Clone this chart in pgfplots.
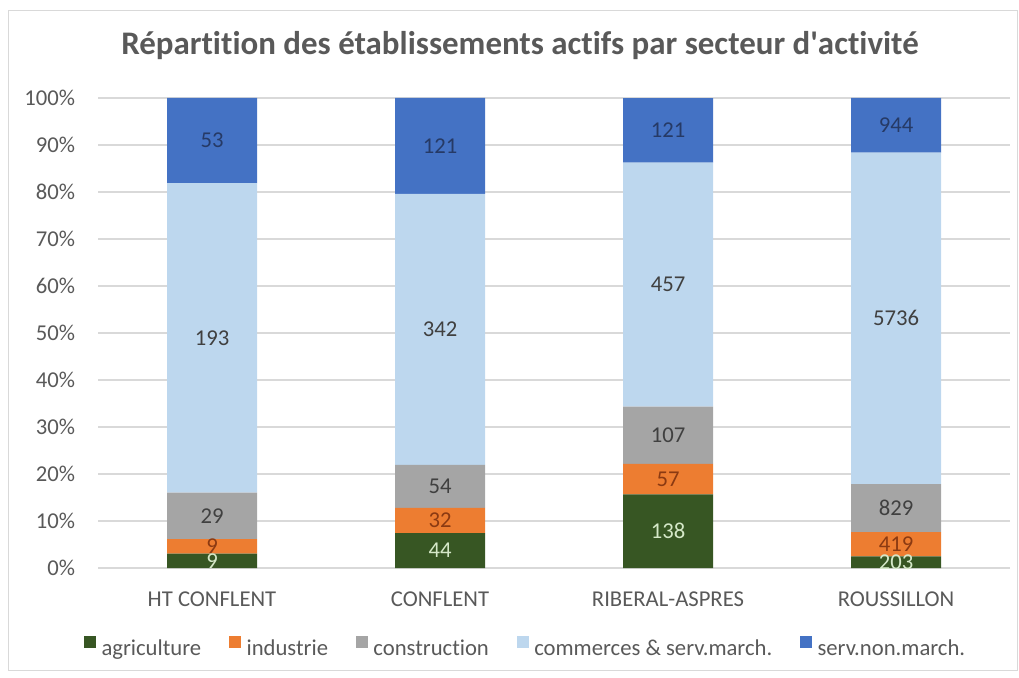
\documentclass[border=0pt]{standalone}
\usepackage{fontspec}
\setmainfont{Carlito}[Ligatures=NoCommon]
\usepackage{pgfplots}
\usepackage{pgfplotstable}
\pgfplotsset{compat=1.18}
\definecolor{cagri}{HTML}{375623}
\definecolor{cind}{HTML}{ED7D31}
\definecolor{ccons}{HTML}{A5A5A5}
\definecolor{ccom}{HTML}{BDD7EE}
\definecolor{cserv}{HTML}{4472C4}
\definecolor{txt}{HTML}{595959}
\definecolor{gridc}{HTML}{D9D9D9}
\definecolor{lbl}{HTML}{404040}
\definecolor{lblgreen}{HTML}{D5E8C8}
\definecolor{lblorange}{HTML}{8B3A12}
\definecolor{lblblue}{HTML}{263A66}

\pgfplotstableread{
x a b c d e
0 9 9 29 193 53
1 44 32 54 342 121
2 138 57 107 457 121
3 203 419 829 5736 944
}\data
\pgfplotstablecreatecol[expr={\thisrow{a}+\thisrow{b}+\thisrow{c}+\thisrow{d}+\thisrow{e}}]{tot}{\data}

\pgfplotsset{
  lblplot/.style={draw=none, mark=none, forget plot, nodes near coords,
    point meta=explicit symbolic,
    every node near coord/.append style={anchor=center, inner sep=0pt,
      font=\fontsize{17}{20}\selectfont, text=#1}},
  geom/.style={at={(73.5pt,81.75pt)}, anchor=south west, scale only axis,
    width=684pt, height=352.5pt, xmin=-0.5, xmax=3.5, ymin=0, ymax=100,
    enlargelimits=false}
}

\begin{document}
\begin{tikzpicture}
\path[use as bounding box] (0,0) rectangle (764.25pt,507.75pt);
\draw[gridc, line width=0.6pt] (6pt,5.25pt) rectangle (762.75pt,500.25pt);
\node[text=txt, font=\fontsize{24.7}{29}\selectfont\bfseries] at (390pt,473.5pt)
  {Répartition des établissements actifs par secteur d\textquotesingle activité};

\begin{axis}[geom,
  ybar stacked, bar width=67.5pt,
  axis line style={draw=none},
  major tick length=0pt,
  xtick={0,1,2,3},
  xticklabels={HT CONFLENT, CONFLENT, RIBERAL-ASPRES, ROUSSILLON},
  ytick={0,10,...,100},
  yticklabel={\pgfmathprintnumber[assume math mode=true]{\tick}\%},
  ymajorgrids, grid style={gridc, line width=0.8pt},
  tick label style={text=txt, font=\fontsize{17}{20}\selectfont, inner sep=0pt},
  xticklabel style={anchor=center, yshift=-23.25pt},
  yticklabel style={anchor=east, xshift=-17pt},
  legend columns=5,
  legend style={draw=none, fill=none, at={(0.4693,-0.1702)}, anchor=center,
    font=\fontsize{17}{20}\selectfont, text=txt,
    /tikz/every even column/.append style={column sep=19pt}},
  legend image code/.code={\fill[#1] (0pt,0pt) rectangle (9pt,9pt);\path (11pt,0pt);},
]
\addplot[fill=cagri, draw=none] table[x=x, y expr={\thisrow{a}/\thisrow{tot}*100}]{\data};
\addplot[fill=cind, draw=none] table[x=x, y expr={\thisrow{b}/\thisrow{tot}*100}]{\data};
\addplot[fill=ccons, draw=none] table[x=x, y expr={\thisrow{c}/\thisrow{tot}*100}]{\data};
\addplot[fill=ccom, draw=none] table[x=x, y expr={\thisrow{d}/\thisrow{tot}*100}]{\data};
\addplot[fill=cserv, draw=none] table[x=x, y expr={\thisrow{e}/\thisrow{tot}*100}]{\data};
\legend{agriculture, industrie, construction, commerces \& serv.march., serv.non.march.}
\end{axis}

\begin{axis}[geom, hide axis]
\addplot[lblplot=lblgreen] table[x=x, y expr={\thisrow{a}/2/\thisrow{tot}*100}, meta=a]{\data};
\addplot[lblplot=lblorange] table[x=x, y expr={(\thisrow{a}+\thisrow{b}/2)/\thisrow{tot}*100}, meta=b]{\data};
\addplot[lblplot=lbl] table[x=x, y expr={(\thisrow{a}+\thisrow{b}+\thisrow{c}/2)/\thisrow{tot}*100}, meta=c]{\data};
\addplot[lblplot=lbl] table[x=x, y expr={(\thisrow{a}+\thisrow{b}+\thisrow{c}+\thisrow{d}/2)/\thisrow{tot}*100}, meta=d]{\data};
\addplot[lblplot=lblblue] table[x=x, y expr={(\thisrow{a}+\thisrow{b}+\thisrow{c}+\thisrow{d}+\thisrow{e}/2)/\thisrow{tot}*100}, meta=e]{\data};
\end{axis}
\end{tikzpicture}
\end{document}
